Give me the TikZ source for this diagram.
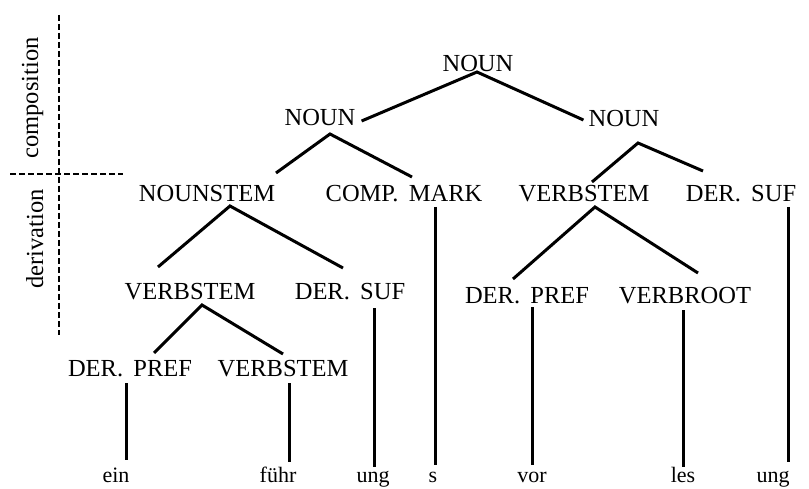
\documentclass[tikz,border=0pt]{standalone}
\usepackage{fontspec}
\setmainfont{Liberation Serif}
\usetikzlibrary{calc}
\tikzset{
  cat/.style={inner sep=0pt, anchor=base, font=\fontsize{24.5}{28}\selectfont},
  word/.style={inner sep=0pt, anchor=base, font=\fontsize{22}{26}\selectfont},
  side/.style={inner sep=0pt, anchor=base, rotate=90, font=\fontsize{24.5}{28}\selectfont},
  branch/.style={line width=3pt},
  stem/.style={line width=3pt},
  divider/.style={line width=2pt, dash pattern=on 6pt off 3pt}
}
\newcommand{\gap}{\hspace{0.42em}}
\begin{document}
\begin{tikzpicture}[x=1pt, y=-1pt]
\useasboundingbox (0,0) rectangle (809,489);

% level labels and dividers
\draw[divider] (59,15) -- (59,335);
\draw[divider] (10,174) -- (123,174);
\node[side] (comp) at (38,98) {composition};
\node[side] (deri) at (43,239) {derivation};

% category nodes
\node[cat] (n0) at (478,72) {NOUN};
\node[cat] (n1) at (320,126) {NOUN};
\node[cat] (n2) at (624,127) {NOUN};
\node[cat] (n3) at (207,202) {NOUNSTEM};
\node[cat] (n4) at (404,202) {COMP.\gap MARK};
\node[cat] (n5) at (584,202) {VERBSTEM};
\node[cat] (n6) at (741,202) {DER.\gap SUF};
\node[cat] (n7) at (190,300) {VERBSTEM};
\node[cat] (n8) at (350,300) {DER.\gap SUF};
\node[cat] (n9) at (527,303) {DER.\gap PREF};
\node[cat] (n10) at (685,303) {VERBROOT};
\node[cat] (n11) at (130,376) {DER.\gap PREF};
\node[cat] (n12) at (283,376) {VERBSTEM};

% morphs
\node[word] (w1) at (116,482) {ein};
\node[word] (w2) at (278,482) {führ};
\node[word] (w3) at (373,482) {ung};
\node[word] (w4) at (433,482) {s};
\node[word] (w5) at (532,482) {vor};
\node[word] (w6) at (683,482) {les};
\node[word] (w7) at (773,482) {ung};

% branches
\draw[branch] ($(n1.base east)+(6,-5)$) -- ($(n0.base)+(-1,0)$) -- ($(n2.base west)+(-5,-7)$);
\draw[branch] ($(n3.base)+(69,-29)$) -- ($(n1.base)+(10,8)$) -- ($(n4.base)+(8,-25)$);
\draw[branch] ($(n5.base)+(8,-20)$) -- ($(n2.base)+(14,16)$) -- ($(n6.base)+(-38,-31)$);
\draw[branch] ($(n7.base)+(-32,-33)$) -- ($(n3.base)+(23,4)$) -- ($(n8.base)+(-7,-32)$);
\draw[branch] ($(n9.base)+(-14,-24)$) -- ($(n5.base)+(11,5)$) -- ($(n10.base)+(13,-30)$);
\draw[branch] ($(n11.base)+(24,-23)$) -- ($(n7.base)+(12,5)$) -- ($(n12.base)+(0,-22)$);

% vertical stems down to the morphs
\draw[stem] ($(n4.base)+(31,5)$) -- ($(w4.base)+(2,-17)$);
\draw[stem] ($(n6.base)+(47,5)$) -- ($(w7.base)+(15,-20)$);
\draw[stem] ($(n8.base)+(24,8)$) -- ($(w3.base)+(1,-15)$);
\draw[stem] ($(n9.base)+(5,4)$) -- ($(w5.base)+(0,-17)$);
\draw[stem] ($(n10.base)+(-2,7)$) -- ($(w6.base)+(0,-15)$);
\draw[stem] ($(n11.base)+(-4,7)$) -- ($(w1.base)+(10,-22)$);
\draw[stem] ($(n12.base)+(6,7)$) -- ($(w2.base)+(11,-20)$);
\end{tikzpicture}
\end{document}
